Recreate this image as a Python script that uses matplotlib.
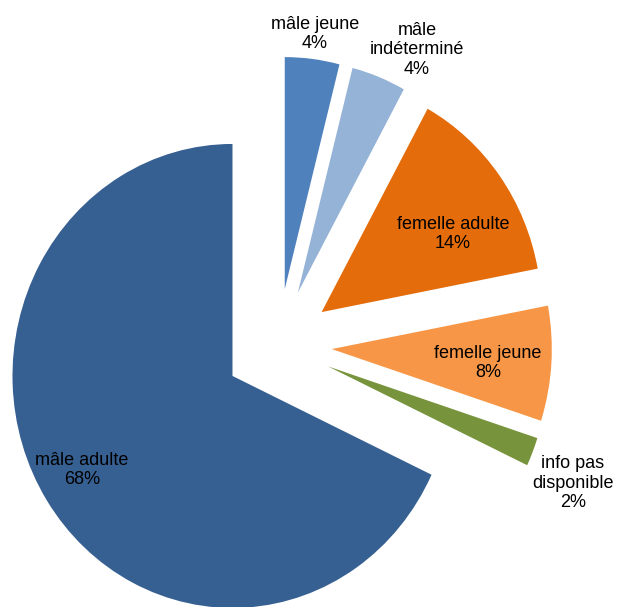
"""
Exploded pie chart: répartition par catégorie (mâle / femelle, adulte / jeune).
"""

import matplotlib
matplotlib.use("Agg")
import matplotlib.pyplot as plt


# data, clockwise from 12 o'clock
categories = [
    "mâle jeune",
    "mâle\nindéterminé",
    "femelle adulte",
    "femelle jeune",
    "info pas\ndisponible",
    "mâle adulte",
]
percentages = [4, 4, 14, 8, 2, 68]
colors = ["#4F81BD", "#95B3D7", "#E46C0A", "#F79646", "#77933C", "#376092"]

# layout
EXPLODE = 0.245
LABEL_POS = [
    (0.168, 1.343),
    (0.632, 1.274),
    (0.795, 0.481),
    (0.955, -0.075),
    (1.341, -0.593),
    (-0.891, -0.537),
]


def main() -> None:
    plt.rcParams["font.family"] = ["Liberation Sans", "DejaVu Sans"]

    fig = plt.figure(figsize=(6.23, 6.07), dpi=100)
    ax = fig.add_axes([0, 0, 1, 1])

    ax.pie(
        percentages,
        colors=colors,
        explode=[EXPLODE] * len(percentages),
        startangle=90,
        counterclock=False,
        wedgeprops={"linewidth": 0},
    )

    for name, pct, (x, y) in zip(categories, percentages, LABEL_POS):
        ax.text(x, y, f"{name}\n{pct}%", ha="center", va="center",
                fontsize=13, color="black", linespacing=1.2)

    # the original chart is slightly stretched vertically
    ax.set_aspect("auto")
    ax.set_xlim(-278 / 220, (623 - 278) / 220)
    ax.set_ylim(-(607 - 345.5) / 232, 345.5 / 232)
    ax.axis("off")

    fig.savefig("out.png", dpi=100)
    plt.close(fig)


if __name__ == "__main__":
    main()
